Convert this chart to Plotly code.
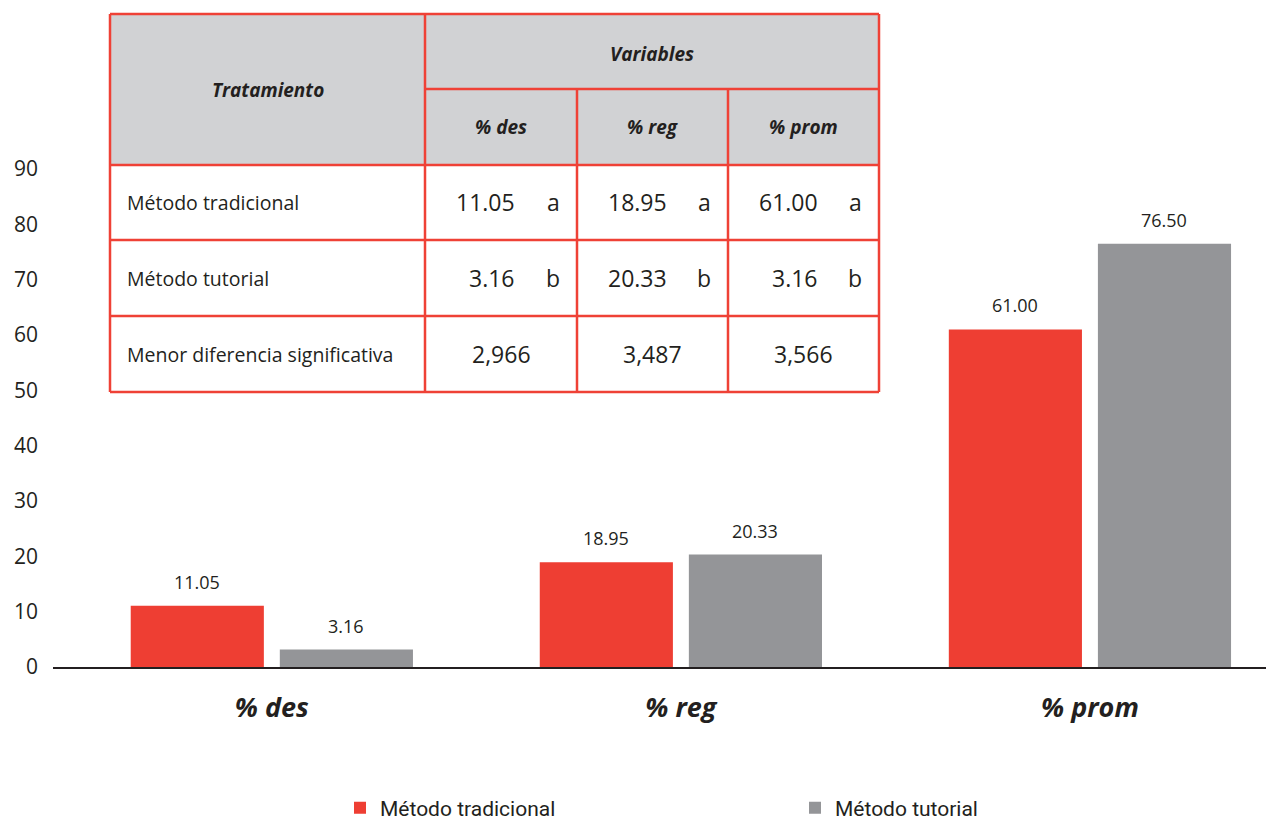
import plotly.graph_objects as go

# ---------------- data ----------------
categories = ["% des", "% reg", "% prom"]
series_names = ["Método tradicional", "Método tutorial"]
trad_values = [11.05, 18.95, 61.00]
tut_values = [3.16, 20.33, 76.50]
y_ticks = [0, 10, 20, 30, 40, 50, 60, 70, 80, 90]

table_header_left = "Tratamiento"
table_header_top = "Variables"
table_columns = ["% des", "% reg", "% prom"]
table_row_labels = ["Método tradicional", "Método tutorial", "Menor diferencia significativa"]
table_trad = ["11.05", "18.95", "61.00"]
table_trad_grp = ["a", "a", "a"]
table_tut = ["3.16", "20.33", "3.16"]
table_tut_grp = ["b", "b", "b"]
table_mds = ["2,966", "3,487", "3,566"]

# ---------------- styles ----------------
RED = "#ee3e33"
GREY = "#949598"
DARK = "#231f20"
HEAD_FILL = "#d1d2d4"
BORDER = "#ef4136"
FONT = "Open Sans"

OFF = 8  # page body margin
W, H = 1274 - OFF, 822 - OFF
# plot area in screen pixels
PL, PR, PT, PB = 53, 1274, 169, 667
ML, MR, MT, MB = PL - OFF, 1274 - PR, PT - OFF, 822 - PB
PW = PR - PL
PH = PB - PT


def px(x):
    return (x - PL) / PW


def py(y):
    return (PB - y) / PH


BAR_SHIFT = 74.5  # half of a bar slot in pixels

fig = go.Figure()
fig.add_trace(go.Bar(
    x=categories, y=trad_values, name=series_names[0],
    marker=dict(color=RED, line=dict(width=0)),
))
fig.add_trace(go.Bar(
    x=categories, y=tut_values, name=series_names[1],
    marker=dict(color=GREY, line=dict(width=0)),
))

shapes = []
annotations = []

# value labels above bars
for vals, sgn in [(trad_values, -1), (tut_values, 1)]:
    for c, v in zip(categories, vals):
        annotations.append(dict(xref="x", yref="y", x=c, y=v, text=f"{v:.2f}",
                                showarrow=False, xanchor="center", yanchor="bottom",
                                xshift=sgn * BAR_SHIFT, yshift=10,
                                font=dict(size=18, color=DARK, family=FONT)))

# table geometry (screen pixels)
col_x = [110, 425, 577, 728, 879]
row_y = [14, 89, 165, 240, 316, 392]

shapes.append(dict(type="rect", xref="paper", yref="paper",
                   x0=px(col_x[0]), x1=px(col_x[-1]), y0=py(row_y[2]), y1=py(row_y[0]),
                   fillcolor=HEAD_FILL, line=dict(width=0), layer="above"))
shapes.append(dict(type="rect", xref="paper", yref="paper",
                   x0=px(col_x[0]), x1=px(col_x[-1]), y0=py(row_y[-1]), y1=py(row_y[2]),
                   fillcolor="white", line=dict(width=0), layer="above"))


def hline(x0, x1, y):
    shapes.append(dict(type="line", xref="paper", yref="paper",
                       x0=px(x0), x1=px(x1), y0=py(y), y1=py(y),
                       line=dict(color=BORDER, width=2.5), layer="above"))


def vline(x, y0, y1):
    shapes.append(dict(type="line", xref="paper", yref="paper",
                       x0=px(x), x1=px(x), y0=py(y0), y1=py(y1),
                       line=dict(color=BORDER, width=2.5), layer="above"))


hline(col_x[0], col_x[-1], row_y[0])
hline(col_x[1], col_x[-1], row_y[1])
for yy in row_y[2:]:
    hline(col_x[0], col_x[-1], yy)
vline(col_x[0], row_y[0], row_y[-1])
vline(col_x[1], row_y[0], row_y[-1])
vline(col_x[2], row_y[1], row_y[-1])
vline(col_x[3], row_y[1], row_y[-1])
vline(col_x[4], row_y[0], row_y[-1])


def text(x, y, s, size, xanchor="center", bold_italic=False):
    if bold_italic:
        s = f"<b><i>{s}</i></b>"
    annotations.append(dict(xref="paper", yref="paper", x=px(x), y=py(y), text=s,
                            showarrow=False, xanchor=xanchor, yanchor="middle",
                            font=dict(size=size, color=DARK, family=FONT)))


text((col_x[0] + col_x[1]) / 2, (row_y[0] + row_y[2]) / 2, table_header_left, 19, bold_italic=True)
text((col_x[1] + col_x[4]) / 2, (row_y[0] + row_y[1]) / 2 + 2, table_header_top, 19, bold_italic=True)
for i, c in enumerate(table_columns):
    text((col_x[i + 1] + col_x[i + 2]) / 2, (row_y[1] + row_y[2]) / 2, c, 19, bold_italic=True)

for r, lab in enumerate(table_row_labels):
    text(col_x[0] + 15, (row_y[2 + r] + row_y[3 + r]) / 2, lab, 19.5, xanchor="left")

for i in range(3):
    cl = col_x[i + 1]
    cr = col_x[i + 2]
    for r, (vals, grps) in enumerate([(table_trad, table_trad_grp), (table_tut, table_tut_grp)]):
        yc = (row_y[2 + r] + row_y[3 + r]) / 2
        text(cl + 92, yc, vals[i], 23, xanchor="right")
        text(cr - 24, yc, grps[i], 23)
    text((cl + cr) / 2, (row_y[4] + row_y[5]) / 2, table_mds[i], 23)

fig.update_layout(
    width=W, height=H,
    margin=dict(l=ML, r=MR, t=MT, b=MB, autoexpand=False),
    paper_bgcolor="white", plot_bgcolor="white",
    barmode="group", bargap=0.271, bargroupgap=0.107,
    font=dict(family=FONT, color=DARK),
    showlegend=True,
    legend=dict(orientation="h", x=px(340), y=py(808), xanchor="left", yanchor="middle",
                entrywidth=410, entrywidthmode="pixels",
                font=dict(size=21, family="Roboto", color=DARK), traceorder="normal"),
    xaxis=dict(range=[-0.535, 2.45], showline=True, linecolor=DARK, linewidth=2,
               showgrid=False, zeroline=False, ticks="", automargin=False,
               tickmode="array", tickvals=categories,
               ticktext=[f"<b><i>{c}</i></b>" for c in categories],
               tickfont=dict(size=27, color=DARK, family=FONT), ticklabelstandoff=16),
    yaxis=dict(range=[0, 90], showline=False, showgrid=False, zeroline=False, automargin=False,
               tickmode="array", tickvals=y_ticks, ticks="",
               tickfont=dict(size=21, color=DARK, family=FONT), ticklabelstandoff=14),
    shapes=shapes, annotations=annotations,
)

fig.write_html("out.html")
